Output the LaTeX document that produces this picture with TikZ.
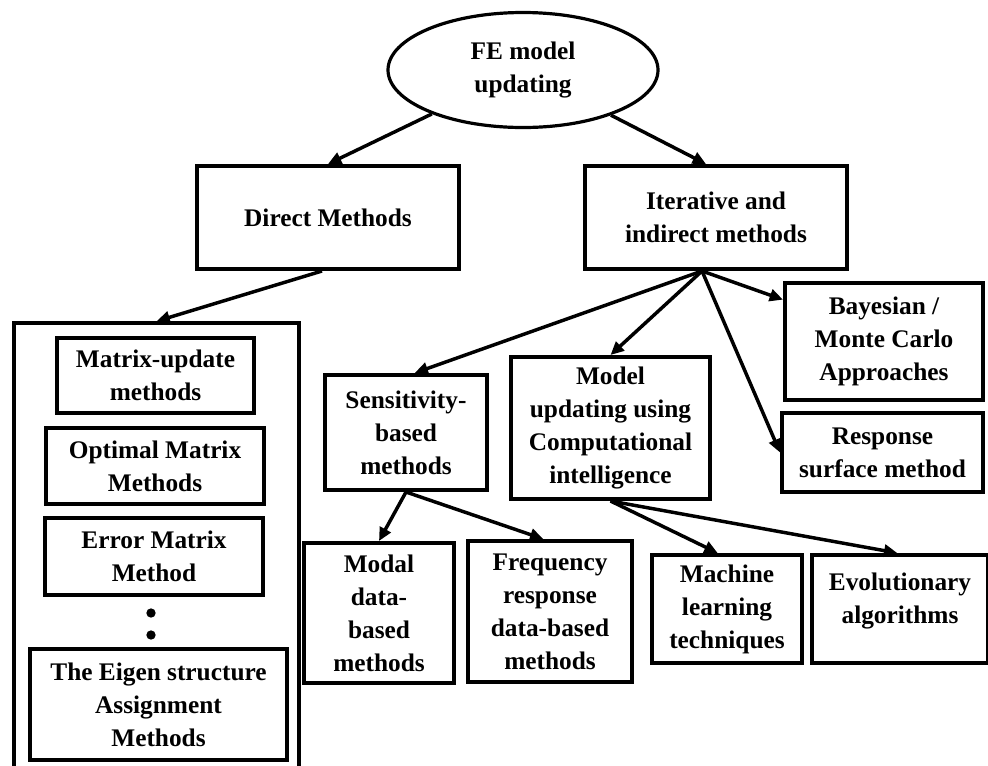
\documentclass[tikz,border=0pt]{standalone}
\usepackage{fontspec}
\setmainfont{Liberation Serif}
\usetikzlibrary{arrows.meta,shapes.geometric}

\tikzset{
  txt/.style={font=\fontsize{19}{24.8}\selectfont\bfseries, align=center, inner sep=0pt},
  methodbox/.style 2 args={txt, draw, line width=3pt, minimum width=#1*0.75pt, minimum height=#2*0.75pt},
  link/.style={line width=2.6pt, -{Triangle[length=10pt,width=9pt]}}
}

\begin{document}
\begin{tikzpicture}[x=0.75pt,y=0.75pt,yscale=-1,xscale=1]
\useasboundingbox (0,0) rectangle (988,765);
\clip (0,0) rectangle (988,765);

%Shape: Ellipse
\node (fe) [txt, draw, ellipse, line width=2.4pt, minimum width=270*0.75pt, minimum height=115*0.75pt] at (523,70) {FE model\\updating};

%Shape: Rectangle (first level)
\node (direct) [methodbox={262}{103}] at (328,217.5) {Direct Methods};
\node (iter) [methodbox={262}{103}] at (716,217.5) {Iterative and\\indirect methods};

%Shape: Rectangle (group of direct methods, runs out at the bottom)
\node (dgroup) [draw, line width=2.6pt, minimum width=285*0.75pt, minimum height=477*0.75pt] at (156.5,561.5) {};
\node (mupd) [methodbox={197}{75}] at (155.5,375.5) {Matrix-update\\methods};
\node (optm) [methodbox={218}{76}] at (155,466) {Optimal Matrix\\Methods};
\node (errm) [methodbox={218}{77}] at (154,556.5) {Error Matrix\\Method};
\node (dotA) [circle, fill, inner sep=0pt, minimum size=7pt] at (151,613) {};
\node (dotB) [circle, fill, inner sep=0pt, minimum size=7pt] at (151,635) {};
\node (eigen) [methodbox={257}{111}] at (158.5,704.5) {The Eigen structure\\Assignment\\Methods};

%Shape: Rectangle (iterative branch)
\node (sens) [methodbox={162}{115}] at (406,432.5) {Sensitivity-\\based\\methods};
\node (cint) [methodbox={199}{142}] at (610.5,428) {Model\\updating using\\Computational\\intelligence};
\node (bayes) [methodbox={198}{117}] at (884,341.5) {Bayesian /\\Monte Carlo\\Approaches};
\node (resp) [methodbox={201}{79}] at (882.5,452.5) {Response\\surface method};

%Shape: Rectangle (bottom row)
\node (modal) [methodbox={150}{140}] at (379,613) {Modal\\data-\\based\\methods};
\node (freq) [methodbox={164}{141}] at (550,611.5) {Frequency\\response\\data-based\\methods};
\node (mach) [methodbox={150}{108}] at (727,609) {Machine\\learning\\techniques};
\node (evol) [methodbox={176}{108}] at (900,609) {};
\node (evoltxt) [txt] at (900,601) {Evolutionary\\algorithms};

%Straight Lines
\coordinate (hub) at ([xshift=-10.5pt]iter.south);
\draw [link] (fe) -- (direct.north);
\draw [link] (fe) -- ([xshift=-7.5pt]iter.north);
\draw [link] ([xshift=-4.5pt]direct.south) -- (dgroup.north);
\draw [link] (hub) -- ([xshift=6.5pt]sens.north);
\draw [link] (hub) -- (cint.north);
\draw [link] (hub) -- ([yshift=14pt]bayes.north west);
\draw [link] (hub) -- (resp.west);
\draw [link] (sens.south) -- (modal.north);
\draw [link] (sens.south) -- ([xshift=-5pt]freq.north);
\draw [link] (cint.south) -- ([xshift=-7pt]mach.north);
\draw [link] (cint.south) -- ([xshift=-2pt]evol.north);
\end{tikzpicture}
\end{document}
